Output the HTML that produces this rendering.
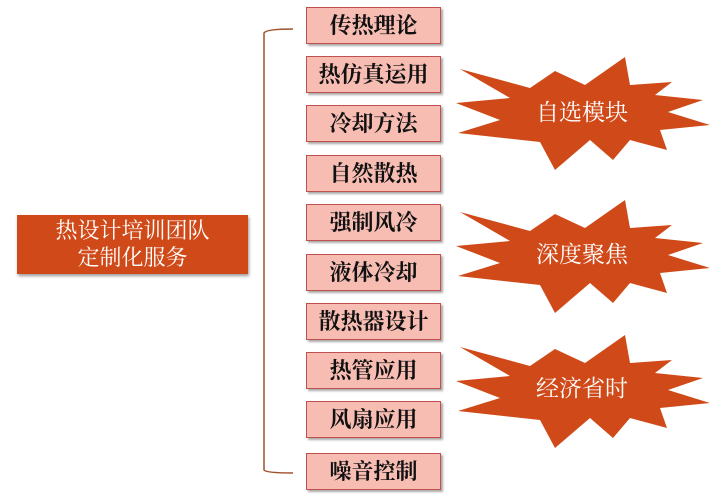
<!DOCTYPE html>
<html><head><meta charset="utf-8"><style>
body{margin:0;width:722px;height:497px;background:#fff;position:relative;overflow:hidden;font-family:"Liberation Serif","Noto Serif CJK SC",serif}
.b{position:absolute;left:306px;width:133px;height:35px;background:#f7bdb3;border:1px solid #c0504d;box-shadow:2px 2px 2px #aaa;text-align:center;line-height:35px;font-size:22px;font-weight:bold;color:#111}
.m{position:absolute;left:17px;top:215px;width:231px;height:59px;background:#d04a19;box-shadow:1px 2px 3px #999;color:#fff;text-align:center;font-size:22px;line-height:27px;padding-top:2px;box-sizing:border-box}
</style></head><body>
<svg width="722" height="497" style="position:absolute;left:0;top:0">
<path d="M293,29 Q266,29 264,33 L264,470 Q266,473 293,473" fill="none" stroke="#a0522d" stroke-width="1.5"/>
<defs><polygon id="s" points="460,69 530,88 555,71 585,85 625,57 630,85 672,82 655,95 703,100 668,112 710,125 660,130 667,150 630,140 613,160 590,140 555,170 540,142 458,133 500,120 456,103 510,98" fill="#d04a19"/></defs>
<use href="#s"/><use href="#s" y="143"/><use href="#s" y="278"/>
<g fill="#fff" font-family="Liberation Serif, Noto Serif CJK SC, serif" font-size="23" text-anchor="middle">
<text x="582" y="120">自选模块</text><text x="582" y="262">深度聚焦</text><text x="582" y="396">经济省时</text></g>
</svg>
<div class="m">热设计培训团队<br>定制化服务</div>
<div class="b" style="top:7px">传热理论</div>
<div class="b" style="top:56px">热仿真运用</div>
<div class="b" style="top:105px">冷却方法</div>
<div class="b" style="top:155px">自然散热</div>
<div class="b" style="top:204px">强制风冷</div>
<div class="b" style="top:254px">液体冷却</div>
<div class="b" style="top:303px">散热器设计</div>
<div class="b" style="top:352px">热管应用</div>
<div class="b" style="top:401px">风扇应用</div>
<div class="b" style="top:453px">噪音控制</div>
</body></html>
